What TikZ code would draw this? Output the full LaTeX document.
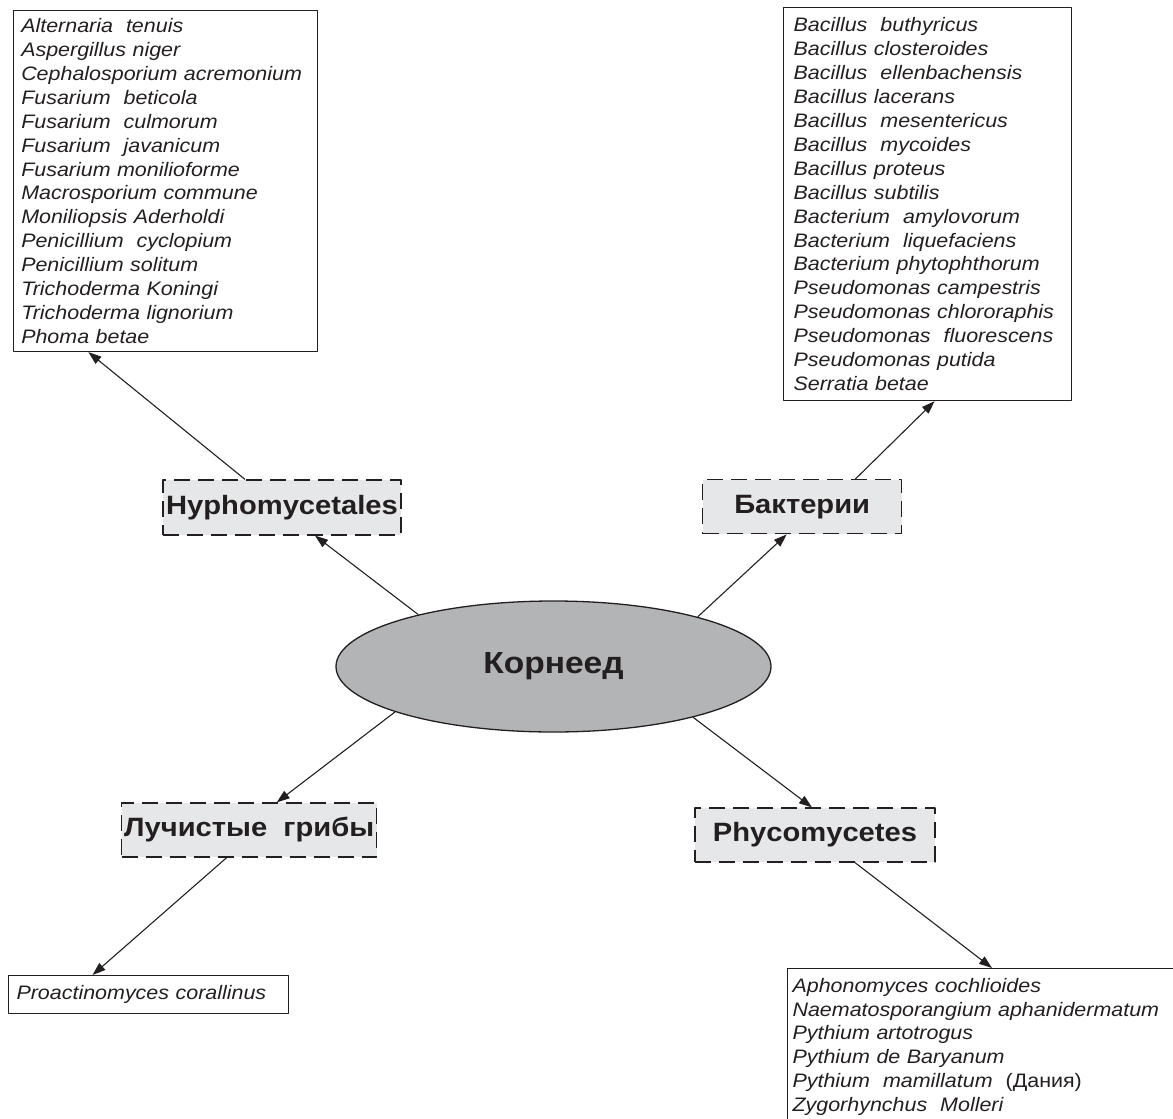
\documentclass[tikz,border=0pt]{standalone}
\usepackage{fontspec}
\setmainfont{Liberation Sans}[FakeStretch=1.1]
\usepackage{tikz}
\usetikzlibrary{arrows.meta,shapes.geometric}
\definecolor{ink}{HTML}{231F20}
\definecolor{boxgray}{HTML}{E6E7E8}
\definecolor{ovalgray}{HTML}{B3B4B6}

\begin{document}
\begin{tikzpicture}[x=1pt,y=-1pt,join=round,
  list/.style={draw=ink,line width=1.1pt,align=left,anchor=north west,inner xsep=8pt,inner ysep=8pt,
    font=\itshape\fontsize{19.5}{23.9}\selectfont,text=ink},
  taxon/.style={draw=ink,fill=boxgray,dash pattern=on 16pt off 8pt,line width=1.2pt,inner sep=0pt,
    font=\bfseries\fontsize{26.5}{30}\selectfont,text=ink},
  link/.style={draw=ink,line width=1.1pt,-{Triangle[length=13pt,width=9pt]}}] % Root-rot pathogens
  \useasboundingbox (0,0) rectangle (1173,1119);
  \clip (0,0) rectangle (1173,1119);
  \node[ellipse,draw=ink,fill=ovalgray,line width=1.3pt,minimum width=435pt,minimum height=131pt,inner sep=0pt,
    font=\bfseries\fontsize{30.5}{34}\selectfont,text=ink] (korn) at (553.5,666.5) {Корнеед};
  \node[taxon,minimum width=238pt,minimum height=55pt] (hyph) at (282,507.5) {Hyphomycetales};
  \node[taxon,minimum width=199pt,minimum height=54pt] (bakt) at (802.2,506.8) {Бактерии};
  \node[taxon,minimum width=255pt,minimum height=54pt] (luch) at (249.2,830) {Лучистые~ грибы};
  \node[taxon,minimum width=240pt,minimum height=54pt] (phyc) at (815,835) {Phycomycetes};
  \node[list,text width=288.3pt] (fung) at (12.7,10) {Alternaria~ tenuis\\ Aspergillus niger\\ Cephalosporium acremonium\\
    Fusarium~ beticola\\ Fusarium~ culmorum\\ Fusarium~ javanicum\\ Fusarium monilioforme\\ Macrosporium commune\\
    Moniliopsis Aderholdi\\ Penicillium~ cyclopium\\ Penicillium solitum\\ Trichoderma Koningi\\
    Trichoderma lignorium\\ Phoma betae};
  \node[list,text width=268pt,inner xsep=10pt,inner ysep=10pt] (bact) at (783,7.3) {Bacillus~ buthyricus\\
    Bacillus closteroides\\ Bacillus~ ellenbachensis\\ Bacillus lacerans\\ Bacillus~ mesentericus\\
    Bacillus~ mycoides\\ Bacillus proteus\\ Bacillus subtilis\\ Bacterium~ amylovorum\\ Bacterium~ liquefaciens\\
    Bacterium phytophthorum\\ Pseudomonas campestris\\ Pseudomonas chlororaphis\\ Pseudomonas~ fluorescens\\
    Pseudomonas putida\\ Serratia betae};
  \node[list,text width=264pt,inner ysep=10pt] (proa) at (8,975) {Proactinomyces corallinus};
  \node[list,text width=420pt,inner xsep=5pt,inner ysep=9.5pt] (oomy) at (787,968) {Aphonomyces cochlioides\\
    Naematosporangium aphanidermatum\\ Pythium artotrogus\\ Pythium de Baryanum\\
    Pythium~ mamillatum~ {\upshape(Дания)}\\ Zygorhynchus~ Molleri};
  \draw[link] (korn.159) -- ([xshift=33pt]hyph.south);
  \draw[link] ([xshift=-37pt]hyph.north) -- ([xshift=-77pt]fung.south);
  \draw[link] (korn.19) -- ([xshift=-15.5pt]bakt.south);
  \draw[link] ([xshift=53pt]bakt.north) -- ([xshift=7pt]bact.south);
  \draw[link] (korn.196.5) -- ([xshift=27.5pt]luch.north);
  \draw[link] ([xshift=-22.5pt]luch.south) -- ([xshift=-56pt]proa.north);
  \draw[link] (korn.340) -- ([xshift=-3pt]phyc.north);
  \draw[link] ([xshift=40pt]phyc.south) -- ([xshift=205pt]oomy.north west);
\end{tikzpicture}
\end{document}
